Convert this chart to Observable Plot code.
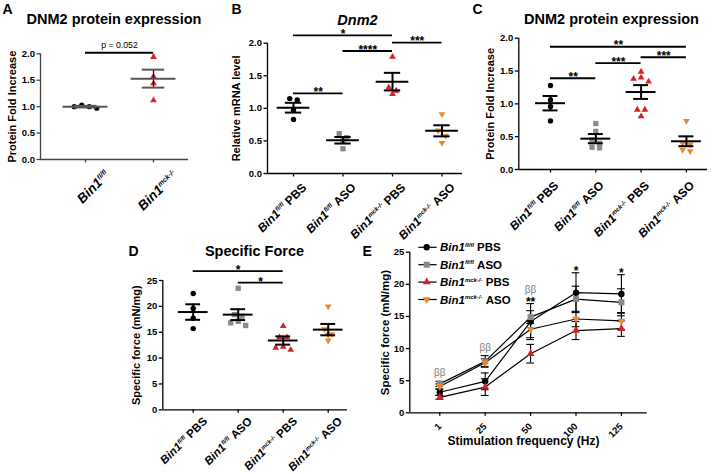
<!DOCTYPE html>
<html>
<head>
<meta charset="utf-8">
<script src="https://cdn.jsdelivr.net/npm/d3@7"></script>
<script src="https://cdn.jsdelivr.net/npm/@observablehq/plot@0.6"></script>
<style>
  html, body { margin: 0; padding: 0; background: #ffffff; }
  #fig { position: relative; width: 719px; height: 474px; overflow: hidden; background: #ffffff; }
  #fig svg { position: absolute; left: 0; top: 0; }
</style>
</head>
<body>
<div id="fig"></div>
<script>
// ---------------- DATA ----------------
// Panel A: DNM2 protein expression
const aGenotypes = ["fl/fl", "mck-/-"];
const aTreatments = ["", ""];
const aPoints = [
  [1.00, 0.97, 1.00, 1.03],
  [1.94, 1.57, 1.44, 1.12]
];
const aMeans = [1.00, 1.53];
const aSem = [0.015, 0.17];
const aSigFrom = [0];
const aSigTo = [1];
const aSigLevel = [2.02];
const aSigText = ["p = 0.052"];
const foldTicks = [0, 0.5, 1.0, 1.5, 2.0];

// Groups used in panels B, C, D
const groupGenotypes = ["fl/fl", "fl/fl", "mck-/-", "mck-/-"];
const groupTreatments = ["PBS", "ASO", "PBS", "ASO"];

// Panel B: Dnm2 relative mRNA level
const bPoints = [
  [1.13, 1.15, 0.97, 0.83],
  [0.61, 0.38, 0.55, 0.51],
  [1.79, 1.22, 1.27, 1.32],
  [0.91, 0.66, 0.58, 0.47]
];
const bMeans = [1.01, 0.51, 1.41, 0.655];
const bSem = [0.075, 0.05, 0.135, 0.085];
const bSigFrom = [0, 2, 1, 0];
const bSigTo = [2, 3, 2, 1];
const bSigLevel = [2.12, 2.01, 1.88, 1.23];
const bSigText = ["*", "***", "****", "**"];

// Panel C: DNM2 protein expression
const cPoints = [
  [1.28, 1.06, 0.96, 0.74],
  [0.70, 0.58, 0.45, 0.40, 0.33, 0.34],
  [1.49, 1.40, 1.38, 1.34, 0.91, 0.91, 0.81],
  [0.74, 0.40, 0.38, 0.28, 0.30]
];
const cMeans = [1.01, 0.47, 1.18, 0.43];
const cSem = [0.11, 0.07, 0.105, 0.075];
const cSigFrom = [0, 2, 1, 0];
const cSigTo = [3, 3, 2, 1];
const cSigLevel = [1.87, 1.71, 1.62, 1.39];
const cSigText = ["**", "***", "***", "**"];

// Panel D: Specific force
const dPoints = [
  [22.5, 19.6, 17.7, 15.7],
  [23.5, 18.4, 18.1, 17.1, 16.3, 16.8],
  [16.2, 14.0, 14.0, 12.2, 12.0, 11.6],
  [20.0, 15.6, 14.6, 14.5, 13.4]
];
const dMeans = [18.9, 18.4, 13.4, 15.5];
const dSem = [1.5, 1.05, 0.8, 1.1];
const dSigFrom = [0, 1];
const dSigTo = [2, 2];
const dSigLevel = [26.8, 24.6];
const dSigText = ["*", "*"];
const forceTicks = [0, 5, 10, 15, 20, 25];

// Panel E: force-frequency
const eFrequencies = ["1", "25", "50", "100", "125"];
const eSeriesGenotypes = ["fl/fl", "fl/fl", "mck-/-", "mck-/-"];
const eSeriesTreatments = ["PBS", "ASO", "PBS", "ASO"];
const eFlPbs = [3.2, 4.9, 14.2, 18.7, 18.5];
const eFlPbsSem = [0.5, 1.3, 2.8, 3.1, 3.0];
const eFlAso = [4.5, 8.0, 14.9, 17.7, 17.2];
const eFlAsoSem = [0.4, 0.9, 1.0, 2.0, 2.1];
const eMckPbs = [2.4, 4.0, 9.2, 12.8, 13.1];
const eMckPbsSem = [0.3, 1.3, 1.45, 1.4, 1.2];
const eMckAso = [4.1, 7.8, 13.0, 14.6, 14.3];
const eMckAsoSem = [0.4, 0.6, 1.3, 1.2, 1.3];
const eBeta = ["ββ", "ββ", "ββ", "", ""];
const eStars = ["", "", "**", "*", "*"];

// ---------------- STYLE ----------------
const FONT = '"Liberation Sans", Arial, Helvetica, sans-serif';
const W = 719, H = 474;
const COLORS = ["#000000", "#8a8a8a", "#d3222a", "#e8892c"];
const SYMBOLS = ["circle", "square", "triangle", "triangle"];
const D3SYM = [d3.symbolCircle, d3.symbolSquare, d3.symbolTriangle, d3.symbolTriangle];
const ROTATE = [0, 0, 0, 180];
const SVGNS = "http://www.w3.org/2000/svg";

function swarm(values, toPx, thresh, step) {
  const order = d3.range(values.length).sort((a, b) => values[b] - values[a]);
  const rows = [];
  for (const i of order) {
    const p = toPx(values[i]);
    const last = rows[rows.length - 1];
    if (last && p - last.start < thresh) last.items.push(i);
    else rows.push({start: p, items: [i]});
  }
  const off = values.map(() => 0);
  for (const r of rows) {
    const n = r.items.length;
    const slots = d3.range(n).map(k => (k - (n - 1) / 2) * step)
      .sort((a, b) => Math.abs(a) - Math.abs(b) || a - b);
    r.items.forEach((it, k) => off[it] = slots[k]);
  }
  return off;
}

function setRich(t, gt, tr, fs) {
  t.textContent = "";
  const a = document.createElementNS(SVGNS, "tspan");
  a.setAttribute("font-style", "italic");
  a.textContent = "Bin1";
  t.appendChild(a);
  const b = document.createElementNS(SVGNS, "tspan");
  b.setAttribute("font-style", "italic");
  b.setAttribute("font-size", (fs * 0.52).toFixed(2));
  b.setAttribute("dy", (-fs * 0.38).toFixed(2));
  b.textContent = gt;
  t.appendChild(b);
  if (tr) {
    const c = document.createElementNS(SVGNS, "tspan");
    c.setAttribute("dy", (fs * 0.38).toFixed(2));
    c.textContent = "\u00a0" + tr;
    t.appendChild(c);
  }
}

function fixedText(o, str, x, y, opts) {
  return Plot.text([str], Object.assign({
    frameAnchor: "top-left", dx: x - o.left, dy: y - o.top,
    text: d => d, lineAnchor: "bottom"
  }, opts));
}

function basePlot(o, marks) {
  return Plot.plot({
    width: W, height: H,
    marginLeft: o.left, marginRight: W - o.right, marginTop: o.top, marginBottom: H - o.bottom,
    x: {type: "linear", domain: [o.x0, o.x1]},
    y: {type: "linear", domain: [0, o.yMax]},
    style: {background: "none", fontFamily: FONT, fontWeight: "bold", fontSize: "9.5px", overflow: "visible"},
    marks
  });
}

function catPanel(o) {
  const n = o.points.length;
  o.x0 = (o.left - o.cat0) / o.step;
  o.x1 = (o.right - o.cat0) / o.step;
  const toPx = v => o.bottom - v / o.yMax * (o.bottom - o.top);
  const marks = [];
  marks.push(Plot.ruleX([o.x0], {y1: 0, y2: o.yMax, stroke: o.axisColor, strokeWidth: 1.3}));
  marks.push(Plot.ruleY([0], {x1: o.x0, x2: o.x1, stroke: o.axisColor, strokeWidth: 1.3}));
  marks.push(Plot.axisY({ticks: o.yTicks, tickFormat: o.fmt, tickSize: 3.5, tickPadding: 2, stroke: o.axisColor, strokeWidth: 1.3, label: null}));
  marks.push(Plot.axisX({ticks: d3.range(n), tickSize: 3.5, tickFormat: () => "", stroke: o.axisColor, strokeWidth: 1.3, label: null}));

  o.points.forEach((vals, g) => {
    const off = swarm(vals, toPx, 5.5, 7.5);
    const pts = vals.map((v, i) => ({x: g + off[i] / o.step, y: v}));
    marks.push(Plot.dot(pts, {x: "x", y: "y", symbol: SYMBOLS[o.styleIdx[g]], fill: o.colors[g], stroke: "none",
      r: o.radii[o.styleIdx[g]], rotate: ROTATE[o.styleIdx[g]]}));
  });

  const rows = o.means.map((m, g) => ({g, m, lo: m - o.sem[g], hi: m + o.sem[g]}));
  marks.push(Plot.ruleX(rows, {x: "g", y1: "lo", y2: "hi", stroke: o.errColor, strokeWidth: o.errWidth}));
  marks.push(Plot.ruleY(rows, {y: "m", x1: d => d.g - 0.33, x2: d => d.g + 0.33, stroke: o.barColor, strokeWidth: 2}));
  for (const k of ["lo", "hi"]) {
    marks.push(Plot.ruleY(rows, {y: k, x1: d => d.g - 0.165, x2: d => d.g + 0.165, stroke: o.barColor, strokeWidth: 2}));
  }

  const sig = o.sigFrom.map((f, i) => ({f, t: o.sigTo[i], y: o.sigLevel[i], s: o.sigText[i]}));
  marks.push(Plot.ruleY(sig, {y: "y", x1: "f", x2: "t", stroke: "#000", strokeWidth: 1.8}));
  marks.push(Plot.text(sig, {x: d => (d.f + d.t) / 2, y: "y", text: "s", lineAnchor: "bottom",
    dy: o.sigDy, fontSize: o.sigSize, fontWeight: o.sigWeight}));

  const labs = o.genotypes.map((gt, i) => ({i, gt, tr: o.treatments[i]}));
  marks.push(Plot.text(labs, {x: "i", y: 0, text: d => "Bin1" + d.gt + (d.tr ? " " + d.tr : ""),
    rotate: -45, textAnchor: "end", dx: o.labDx, dy: o.labDy, fontSize: o.labSize}));

  marks.push(Plot.text([o.ylabel], {frameAnchor: "left", dx: o.ylabX - o.left, rotate: -90, text: d => d,
    textAnchor: "middle", lineAnchor: "middle", fontSize: 11}));
  marks.push(fixedText(o, o.title, o.titleX, o.titleY, {textAnchor: "middle", fontSize: 14.5, fontStyle: o.titleStyle || "normal"}));
  marks.push(fixedText(o, o.letter, o.letterX, o.letterY, {textAnchor: "start", fontSize: 14}));

  const svg = basePlot(o, marks);
  const texts = Array.from(svg.querySelectorAll("text")).filter(t => t.textContent.startsWith("Bin1"));
  texts.forEach((t, i) => { if (labs[i]) setRich(t, labs[i].gt, labs[i].tr, o.labSize); });
  return svg;
}

function linePanel(o) {
  const n = eFrequencies.length;
  o.x0 = (o.left - o.cat0) / o.step;
  o.x1 = (o.right - o.cat0) / o.step;
  const series = [eFlPbs, eFlAso, eMckPbs, eMckAso];
  const sems = [eFlPbsSem, eFlAsoSem, eMckPbsSem, eMckAsoSem];
  const rows = [];
  series.forEach((vals, s) => vals.forEach((v, i) => rows.push({s, i, v, lo: v - sems[s][i], hi: v + sems[s][i]})));
  const radii = [3.2, 3.4, 2.9, 2.9];

  const marks = [];
  marks.push(Plot.ruleX([o.x0], {y1: 0, y2: o.yMax, stroke: "#000", strokeWidth: 1.3}));
  marks.push(Plot.ruleY([0], {x1: o.x0, x2: o.x1, stroke: "#000", strokeWidth: 1.3}));
  marks.push(Plot.axisY({ticks: forceTicks, tickFormat: d3.format("d"), tickSize: 3.5, tickPadding: 2, strokeWidth: 1.3, label: null}));
  marks.push(Plot.axisX({ticks: d3.range(n), tickSize: 3.5, tickFormat: () => "", strokeWidth: 1.3, label: null}));
  marks.push(Plot.text(eFrequencies, {x: (d, i) => i, y: 0, text: d => d, rotate: -45, textAnchor: "end", dx: 0, dy: 12, fontSize: 9.5}));

  marks.push(Plot.line(rows, {x: "i", y: "v", z: "s", stroke: "#000", strokeWidth: 1.2}));
  marks.push(Plot.ruleX(rows, {x: "i", y1: "lo", y2: "hi", stroke: "#000", strokeWidth: 1.1}));
  for (const k of ["lo", "hi"]) {
    marks.push(Plot.ruleY(rows, {y: k, x1: d => d.i - 0.085, x2: d => d.i + 0.085, stroke: "#000", strokeWidth: 1.1}));
  }
  series.forEach((vals, s) => {
    marks.push(Plot.dot(rows.filter(r => r.s === s), {x: "i", y: "v", symbol: SYMBOLS[s], fill: COLORS[s], stroke: "none", r: radii[s], rotate: ROTATE[s]}));
  });

  const ann = eFrequencies.map((f, i) => ({i, top: d3.max(rows.filter(r => r.i === i), r => r.hi), beta: eBeta[i], star: eStars[i]}));
  marks.push(Plot.text(ann.filter(d => d.star), {x: "i", y: "top", text: "star", lineAnchor: "bottom", dy: 2, fontSize: 12}));
  marks.push(Plot.text(ann.filter(d => d.beta && d.star), {x: "i", y: "top", text: "beta", lineAnchor: "bottom", dy: -10.5, fontSize: 10, fontWeight: "normal", fill: "#808080"}));
  marks.push(Plot.text(ann.filter(d => d.beta && !d.star), {x: "i", y: "top", text: "beta", lineAnchor: "bottom", dy: -5, fontSize: 10, fontWeight: "normal", fill: "#808080"}));

  marks.push(Plot.text(["Specific force (mN/mg)"], {frameAnchor: "left", dx: o.ylabX - o.left, rotate: -90, text: d => d,
    textAnchor: "middle", lineAnchor: "middle", fontSize: 11.5}));
  marks.push(fixedText(o, "Stimulation frequency (Hz)", 523, 444, {textAnchor: "middle", fontSize: 12}));
  marks.push(fixedText(o, "E", 362, 255, {textAnchor: "start", fontSize: 14}));

  const svg = basePlot(o, marks);

  // legend
  const g = d3.select(svg).append("g").attr("font-family", FONT).attr("font-weight", "bold").attr("text-anchor", "start");
  eSeriesGenotypes.forEach((gt, s) => {
    const y = 247.3 + s * 17.4;
    g.append("line").attr("x1", 418.3).attr("x2", 436.7).attr("y1", y).attr("y2", y).attr("stroke", "#000").attr("stroke-width", 1.2);
    g.append("path").attr("d", d3.symbol(D3SYM[s], Math.PI * radii[s] * radii[s])())
      .attr("transform", `translate(426.7,${y}) rotate(${ROTATE[s]})`).attr("fill", COLORS[s]);
    const t = g.append("text").attr("x", 440).attr("y", y + 4).attr("font-size", 11.5).attr("text-anchor", "start");
    setRich(t.node(), gt, eSeriesTreatments[s], 11.5);
  });
  return svg;
}

const fig = document.getElementById("fig");
const fold = d3.format(".1f");

// Panel A
fig.appendChild(catPanel({
  left: 40, right: 188, cat0: 85, step: 68, top: 53.3, bottom: 159, yMax: 2,
  yTicks: foldTicks, fmt: fold, axisColor: "#444",
  points: aPoints, means: aMeans, sem: aSem, styleIdx: [0, 2], colors: ["#000000", "#d3222a"],
  radii: [2.6, 3.0, 2.5, 2.5],
  barColor: "#555", errColor: "#111", errWidth: 1.3,
  sigFrom: aSigFrom, sigTo: aSigTo, sigLevel: aSigLevel, sigText: aSigText, sigDy: -4.5, sigSize: 8.7, sigWeight: "normal",
  genotypes: aGenotypes, treatments: aTreatments, labDx: 22, labDy: 13.5, labSize: 13.5,
  ylabel: "Protein Fold Increase", ylabX: 12,
  title: "DNM2 protein expression", titleX: 113.5, titleY: 23.5, letter: "A", letterX: 2, letterY: 13
}));

// Panel B
fig.appendChild(catPanel({
  left: 267, right: 462, cat0: 293, step: 49.5, top: 42.7, bottom: 173, yMax: 2,
  yTicks: foldTicks, fmt: fold, axisColor: "#000",
  points: bPoints, means: bMeans, sem: bSem, styleIdx: [0, 1, 2, 3], colors: COLORS,
  radii: [2.7, 3.0, 2.5, 2.5],
  barColor: "#000", errColor: "#000", errWidth: 2,
  sigFrom: bSigFrom, sigTo: bSigTo, sigLevel: bSigLevel, sigText: bSigText, sigDy: 2.5, sigSize: 12, sigWeight: "bold",
  genotypes: groupGenotypes, treatments: groupTreatments, labDx: 11, labDy: 12, labSize: 12,
  ylabel: "Relative mRNA level", ylabX: 236,
  title: "Dnm2", titleStyle: "italic", titleX: 357, titleY: 24.5, letter: "B", letterX: 231, letterY: 13
}));

// Panel C
fig.appendChild(catPanel({
  left: 518.3, right: 707, cat0: 550, step: 45.3, top: 37.7, bottom: 169, yMax: 2,
  yTicks: foldTicks, fmt: fold, axisColor: "#000",
  points: cPoints, means: cMeans, sem: cSem, styleIdx: [0, 1, 2, 3], colors: COLORS,
  radii: [2.7, 3.0, 2.5, 2.5],
  barColor: "#000", errColor: "#000", errWidth: 2,
  sigFrom: cSigFrom, sigTo: cSigTo, sigLevel: cSigLevel, sigText: cSigText, sigDy: 2.5, sigSize: 12, sigWeight: "bold",
  genotypes: groupGenotypes, treatments: groupTreatments, labDx: 6, labDy: 14, labSize: 12,
  ylabel: "Protein Fold Increase", ylabX: 489.5,
  title: "DNM2 protein expression", titleX: 611, titleY: 23.5, letter: "C", letterX: 472, letterY: 13
}));

// Panel D
fig.appendChild(catPanel({
  left: 162.3, right: 347, cat0: 192.7, step: 45, top: 280, bottom: 409.3, yMax: 25,
  yTicks: forceTicks, fmt: d3.format("d"), axisColor: "#000",
  points: dPoints, means: dMeans, sem: dSem, styleIdx: [0, 1, 2, 3], colors: COLORS,
  radii: [2.7, 3.0, 2.5, 2.5],
  barColor: "#000", errColor: "#000", errWidth: 2,
  sigFrom: dSigFrom, sigTo: dSigTo, sigLevel: dSigLevel, sigText: dSigText, sigDy: 3, sigSize: 12, sigWeight: "bold",
  genotypes: groupGenotypes, treatments: groupTreatments, labDx: 12, labDy: 9.5, labSize: 11.5,
  ylabel: "Specific force (mN/mg)", ylabX: 135.5,
  title: "Specific Force", titleX: 254, titleY: 255, letter: "D", letterX: 128, letterY: 255
}));

// Panel E
fig.appendChild(linePanel({
  left: 409.3, right: 646.7, cat0: 439.3, step: 45.4, top: 251.7, bottom: 412.3, yMax: 25, ylabX: 385
}));
</script>
</body>
</html>
